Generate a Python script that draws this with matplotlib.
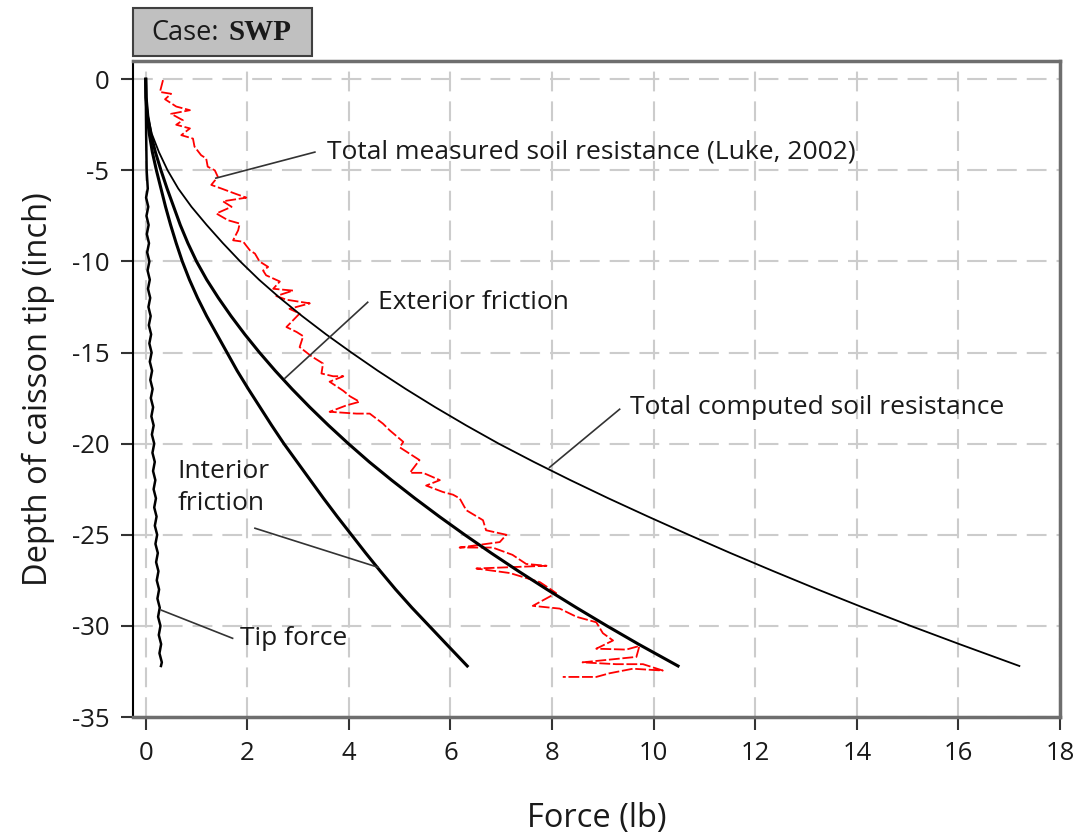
import matplotlib
matplotlib.use('Agg')
import matplotlib.pyplot as plt
from matplotlib.patches import Rectangle

plt.rcParams['font.family'] = ['Open Sans', 'DejaVu Sans']
plt.rcParams['axes.unicode_minus'] = False

# computed curves share the same depth points
depth = [0, -1, -2, -3, -4, -5, -6, -7, -8, -9, -10, -11, -12, -13, -14, -15, -16,
         -17, -18, -19, -20, -21, -22, -23, -24, -25, -26, -27, -28, -29, -30, -31, -32.2]
comp_force = [0, 0.005, 0.04, 0.12, 0.26, 0.43, 0.64, 0.9, 1.2, 1.52, 1.86, 2.23, 2.64, 3.08,
              3.55, 4.05, 4.57, 5.12, 5.7, 6.31, 6.95, 7.64, 8.36, 9.11, 9.89, 10.69, 11.51,
              12.36, 13.23, 14.13, 15.06, 16.02, 17.2]
ext_force = [0, 0.008, 0.04, 0.1, 0.19, 0.3, 0.42, 0.55, 0.68, 0.83, 1.0, 1.2, 1.43, 1.68,
             1.95, 2.24, 2.55, 2.88, 3.23, 3.6, 3.99, 4.4, 4.84, 5.3, 5.78, 6.28, 6.8, 7.34,
             7.9, 8.48, 9.08, 9.7, 10.48]
int_force = [0, 0.005, 0.025, 0.07, 0.13, 0.21, 0.3, 0.39, 0.49, 0.6, 0.72, 0.86, 1.02, 1.2,
             1.4, 1.6, 1.8, 2.02, 2.25, 2.48, 2.72, 2.98, 3.24, 3.5, 3.77, 4.05, 4.33, 4.62,
             4.92, 5.24, 5.58, 5.92, 6.33]

# tip force (wavy)
tip_depth = [0, -1, -2, -3, -4, -5, -6, -6.5, -7, -7.5, -8, -8.5, -9, -9.5, -10, -10.5, -11,
             -11.5, -12, -12.5, -13, -13.5, -14, -14.5, -15, -15.5, -16, -16.5, -17, -17.5,
             -18, -18.5, -19, -19.5, -20, -20.5, -21, -21.5, -22, -22.5, -23, -23.5, -24,
             -24.5, -25, -25.5, -26, -26.5, -27, -27.5, -28, -28.5, -29, -29.5, -30, -30.5,
             -31, -31.5, -32, -32.2]
tip_force = [0, 0.002, 0.005, 0.008, 0.013, 0.018, 0.04, 0.007, 0.05, 0.014, 0.057, 0.021,
             0.064, 0.028, 0.072, 0.036, 0.08, 0.044, 0.088, 0.053, 0.097, 0.061, 0.106, 0.071,
             0.115, 0.08, 0.125, 0.09, 0.135, 0.1, 0.145, 0.111, 0.156, 0.121, 0.167, 0.132,
             0.178, 0.144, 0.189, 0.155, 0.201, 0.167, 0.213, 0.179, 0.225, 0.191, 0.238,
             0.204, 0.25, 0.217, 0.263, 0.23, 0.276, 0.243, 0.29, 0.257, 0.303, 0.27, 0.317, 0.3]

# total measured soil resistance (Luke, 2002)
meas_force = [0.34, 0.28, 0.5, 0.38, 0.6, 0.87, 0.5, 0.73, 0.6, 0.87, 0.7, 0.93, 0.96, 1.09,
              1.19, 1.22, 1.36, 1.42, 1.29, 1.49, 1.78, 1.98, 1.52, 1.69, 1.39, 1.62, 1.85,
              1.82, 1.72, 1.92, 2.05, 2.15, 2.24, 2.41, 2.31, 2.37, 2.64, 2.51, 2.9, 2.57,
              2.77, 3.23, 2.83, 3.03, 2.77, 2.97, 3.1, 3.03, 3.26, 3.49, 3.46, 3.69, 3.89,
              3.62, 3.89, 4.02, 4.21, 3.95, 3.62, 4.15, 4.41, 4.67, 4.8, 5.07, 5.0, 5.39, 5.2,
              5.46, 5.79, 5.52, 5.85, 6.05, 6.18, 6.31, 6.64, 6.7, 7.1, 6.97, 6.18, 6.83, 7.22,
              7.49, 7.89, 6.97, 6.51, 7.17, 7.76, 7.95, 8.08, 7.62, 8.15, 8.48, 8.87, 9.0, 9.2,
              8.87, 9.46, 9.72, 9.66, 8.6, 9.26, 9.79, 10.18, 9.59, 9.13, 8.87, 8.21]
meas_depth = [-0.05, -0.7, -0.8, -1.1, -1.5, -1.7, -1.9, -2.25, -2.5, -2.7, -3.07, -3.26, -3.7,
              -4.17, -4.35, -4.8, -5.0, -5.36, -5.8, -6.0, -6.3, -6.5, -6.7, -7.0, -7.37, -7.74,
              -7.92, -8.29, -8.84, -8.92, -9.39, -9.57, -10.0, -10.3, -10.5, -10.76, -11.1,
              -11.5, -11.6, -11.9, -12.1, -12.3, -12.6, -12.86, -13.6, -13.87, -14.1, -14.7,
              -15.2, -15.6, -16.15, -16.3, -16.3, -16.6, -17.1, -17.4, -17.7, -17.9, -18.25,
              -18.35, -18.35, -18.9, -19.26, -19.9, -20.2, -20.9, -21.6, -21.6, -22.0, -22.3,
              -22.65, -22.8, -23.0, -23.65, -24.2, -24.75, -25.0, -25.4, -25.7, -25.7, -26.1,
              -26.6, -26.7, -26.8, -26.85, -27.1, -27.6, -27.95, -28.2, -28.9, -29.05, -29.5,
              -29.8, -30.4, -30.8, -31.25, -31.3, -31.1, -31.7, -32.0, -32.1, -32.1, -32.45,
              -32.35, -32.6, -32.8, -32.8]

x_ticks = [0, 2, 4, 6, 8, 10, 12, 14, 16, 18]
y_ticks = [0, -5, -10, -15, -20, -25, -30, -35]

fig = plt.figure(figsize=(10.79, 8.40), dpi=100)
ax = fig.add_axes([0.1233, 0.1464, 0.8591, 0.781])

ax.plot(meas_force, meas_depth, color='#ff0000', lw=1.3, ls=(0, (6, 1.5)), zorder=3)
ax.plot(comp_force, depth, color='black', lw=1.3, zorder=4)
ax.plot(ext_force, depth, color='black', lw=2.2, zorder=4)
ax.plot(int_force, depth, color='black', lw=2.2, zorder=4)
ax.plot(tip_force, tip_depth, color='black', lw=1.8, zorder=4)

ax.set_xlim(-0.25, 18)
ax.set_ylim(-35, 1)
ax.set_xticks(x_ticks)
ax.set_yticks(y_ticks)
ax.grid(True, color='#cccccc', lw=1.5, ls=(0, (9.5, 4.8)))
ax.set_axisbelow(True)
ax.tick_params(labelsize=18.5, length=9, width=1.5, color='#333333', pad=8, labelcolor='#1a1a1a')
for s in ['top', 'right', 'bottom']:
    ax.spines[s].set_color('#6e6e6e')
    ax.spines[s].set_linewidth(2.5)
ax.spines['left'].set_color('black')
ax.spines['left'].set_linewidth(1.5)

ax.set_xlabel('Force (lb)', fontsize=23.5, labelpad=26, color='#1a1a1a')
ax.set_ylabel('Depth of caisson tip (inch)', fontsize=23.5, labelpad=12, color='#1a1a1a')

# callout texts and leader lines
lab = dict(fontsize=19, color='#1a1a1a', va='center', ha='left')
lead = dict(color='#333333', lw=1.2, zorder=5)
ax.text(3.57, -4.0, 'Total measured soil resistance (Luke, 2002)', **lab)
ax.plot([3.33, 1.38], [-4.0, -5.43], **lead)
ax.text(4.57, -12.24, 'Exterior friction', **lab)
ax.plot([4.37, 2.74], [-12.24, -16.41], **lead)
ax.text(9.53, -18.0, 'Total computed soil resistance', **lab)
ax.plot([9.33, 7.95], [-18.11, -21.3], **lead)
ax.text(0.63, -22.4, 'Interior\nfriction', linespacing=1.35, **lab)
ax.plot([2.15, 4.57], [-24.64, -26.78], **lead)
ax.text(1.85, -30.68, 'Tip force', **lab)
ax.plot([1.71, 0.31], [-30.68, -29.14], **lead)

# case box above the plot
fig.patches.append(Rectangle((0.1233, 0.9333), 0.1659, 0.0571, transform=fig.transFigure,
                             facecolor='#c0c0c0', edgecolor='#404040', lw=1.5))
fig.text(0.140, 0.961, 'Case:', fontsize=19.5, va='center', ha='left', color='#1a1a1a')
fig.text(0.2115, 0.961, 'SWP', fontsize=21, va='center', ha='left', color='#1a1a1a',
         family='Liberation Serif', weight='bold')

fig.savefig('out.png', dpi=100, facecolor='white')
